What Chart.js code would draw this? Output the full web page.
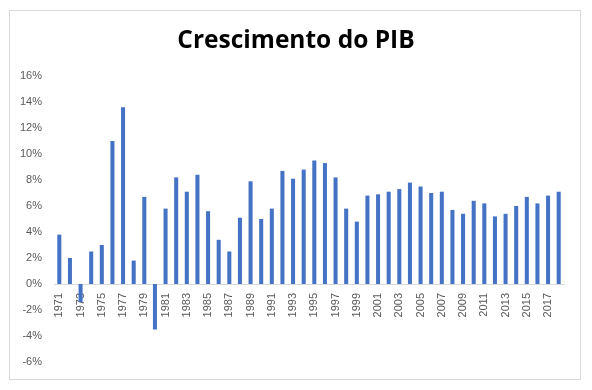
<!DOCTYPE html>
<html>
<head>
<meta charset="utf-8">
<script src="https://cdn.jsdelivr.net/npm/chart.js@4.4.0/dist/chart.umd.min.js"></script>
<style>
  body { margin: 0; background: #fff; }
  #frame { position: absolute; left: 9px; top: 10px; width: 570px; height: 368px; border: 1px solid #d9d9d9; }
  #myChart { position: absolute; left: 0; top: 0; }
</style>
</head>
<body>
<div id="frame"></div>
<canvas id="myChart" width="592" height="390"></canvas>
<script>
// anos e crescimento do PIB (%)
const years = [
  "1971", "1972", "1973", "1974", "1975", "1976", "1977", "1978", "1979", "1980",
  "1981", "1982", "1983", "1984", "1985", "1986", "1987", "1988", "1989", "1990",
  "1991", "1992", "1993", "1994", "1995", "1996", "1997", "1998", "1999", "2000",
  "2001", "2002", "2003", "2004", "2005", "2006", "2007", "2008", "2009", "2010",
  "2011", "2012", "2013", "2014", "2015", "2016", "2017", "2018"
];
const growth = [
  3.8, 2.0, -1.4, 2.5, 3.0, 11.0, 13.6, 1.8, 6.7, -3.5,
  5.8, 8.2, 7.1, 8.4, 5.6, 3.4, 2.5, 5.1, 7.9, 5.0,
  5.8, 8.7, 8.1, 8.8, 9.5, 9.3, 8.2, 5.8, 4.8, 6.8,
  6.9, 7.1, 7.3, 7.8, 7.5, 7.0, 7.1, 5.7, 5.4, 6.4,
  6.2, 5.2, 5.4, 6.0, 6.7, 6.2, 6.8, 7.1
];
const yMin = -6;
const yMax = 16;
const yStep = 2;
const chartTitle = "Crescimento do PIB";

const ctx = document.querySelector("#myChart").getContext("2d");

//* titulo centrado na largura toda do canvas
const centeredTitle = {
  id: "centeredTitle",
  afterDraw: (chart) => {
    const c = chart.ctx;
    c.save();
    c.font = "bold 24.5px 'Open Sans', sans-serif";
    c.fillStyle = "#000";
    c.textAlign = "center";
    c.textBaseline = "alphabetic";
    c.fillText(chartTitle, chart.width / 2, 48);
    c.restore();
  },
};

const data = {
  labels: years,
  datasets: [
    {
      data: growth,
      backgroundColor: "#4472c4",
      barPercentage: 0.38,
      categoryPercentage: 1,
    },
  ],
};

const config = {
  type: "bar",
  data: data,
  plugins: [centeredTitle],
  options: {
    responsive: false,
    animation: false,
    layout: {
      padding: { left: 0, right: 28, top: 76, bottom: 28 },
    },
    plugins: {
      legend: { display: false },
      tooltip: { enabled: false },
      title: { display: false },
    },
    scales: {
      x: {
        position: { y: 0 },
        grid: { display: false, drawTicks: false },
        border: { display: true, color: "#d9d9d9", width: 1 },
        ticks: {
          autoSkip: false,
          minRotation: 90,
          maxRotation: 90,
          padding: 9,
          color: "#595959",
          font: { family: "'Liberation Sans', sans-serif", size: 11 },
          callback: function (value, index) {
            return index % 2 === 0 ? years[index] : "";
          },
        },
      },
      y: {
        min: yMin,
        max: yMax,
        grid: { display: false, drawTicks: false },
        border: { display: false },
        afterFit: function (scale) {
          scale.width = 54;
        },
        ticks: {
          stepSize: yStep,
          padding: 12,
          color: "#595959",
          font: { family: "'Liberation Sans', sans-serif", size: 11 },
          callback: function (value) {
            return value + "%";
          },
        },
      },
    },
  },
};

const myChart = new Chart(ctx, config);
</script>
</body>
</html>
